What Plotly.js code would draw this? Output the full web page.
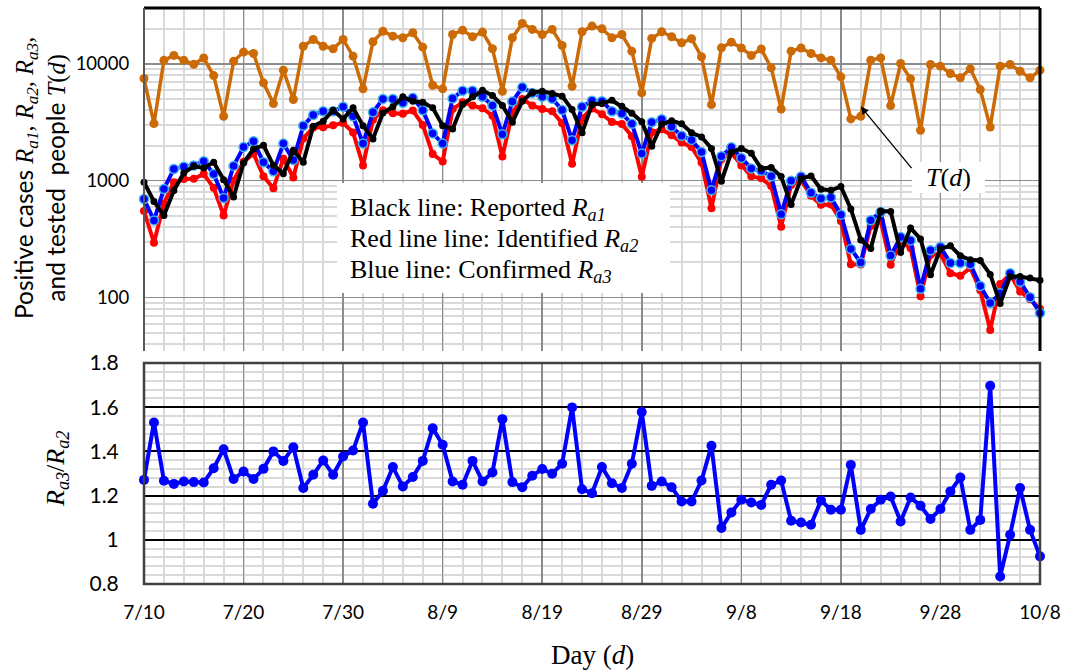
<!DOCTYPE html>
<html><head><meta charset="utf-8">
<script src="https://cdn.plot.ly/plotly-3.0.1.min.js"></script>
<style>html,body{margin:0;padding:0;background:#fff;}#chart{width:1070px;height:671px;}</style>
</head><body><div id="chart"></div>
<script>
// Day index 0 = 7/10 ... 90 = 10/8
const dayIndex = Array.from({length: 91}, (_, i) => i);
const tickPositions = [0, 10, 20, 30, 40, 50, 60, 70, 80, 90];
const tickLabels = ['7/10', '7/20', '7/30', '8/9', '8/19', '8/29', '9/8', '9/18', '9/28', '10/8'];

// Tested people T(d)
const testedT = [7480, 3080, 10700, 11800, 10700, 9900, 11200, 7930, 3560, 10500,
  12600, 12250, 6870, 4570, 8820, 4950, 14140, 16150, 14140, 13440,
  16150, 11620, 6110, 15440, 19000, 17240, 16700, 18430, 13870, 6550,
  6110, 17800, 19400, 17040, 18660, 13440, 5830, 16700, 22140, 19670,
  17800, 19670, 14340, 6430, 18800, 21000, 19940, 16700, 17800, 12820,
  5640, 16480, 18800, 17040, 15100, 16370, 11480, 4480, 13700, 15320,
  13650, 11780, 13370, 9240, 4110, 12820, 13650, 12250, 11230, 10720,
  7740, 3380, 3560, 10720, 11230, 4390, 10060, 7440, 2700, 9860,
  9540, 8260, 7580, 9060, 6020, 2880, 9540, 9860, 8640, 7580, 8820];

// Reported R_a1 (black)
const reportedRa1 = [970, 666, 505, 827, 1167, 1329, 1286, 1438, 1021, 726,
  1419, 1870, 2010, 1355, 1150, 1820, 1438, 2925, 3229, 4010,
  3380, 4200, 2960, 2280, 3800, 4290, 5220, 4790, 4690, 4200,
  2960, 2770, 4490, 5220, 5940, 5350, 4400, 3165, 4790, 5710,
  5820, 5570, 5290, 4060, 2570, 4490, 4570, 4880, 4340, 3780,
  3200, 1970, 3040, 3260, 3070, 2570, 2370, 1890, 990, 1750,
  1890, 1720, 1270, 1300, 1085, 625, 1040, 1100, 845, 828,
  892, 574, 312, 263, 550, 547, 244, 394, 318, 157,
  261, 278, 228, 211, 208, 158, 89, 152, 152, 147, 141];

// Identified R_a2 (red)
const identifiedRa2 = [552, 295, 640, 970, 1035, 1040, 1140, 870, 505, 1000,
  1450, 1706, 1095, 864, 1545, 1065, 2300, 2850, 2860, 2980,
  3115, 2590, 1350, 3330, 4000, 3780, 3740, 3990, 3000, 1690,
  1460, 4100, 4680, 4390, 4170, 3600, 1610, 3820, 5000, 4400,
  4100, 3930, 3100, 1395, 3420, 4150, 3700, 3180, 3060, 2400,
  1080, 2600, 2750, 2450, 2120, 1940, 1430, 583, 1530, 1720,
  1350, 1090, 1050, 900, 405, 918, 1010, 745, 622, 626,
  452, 193, 192, 410, 455, 191, 305, 265, 103, 232,
  238, 162, 154, 180, 116, 53, 131, 159, 113, 97, 80];

// Confirmed R_a3 (blue)
const confirmedRa3 = [698, 458, 851, 1260, 1320, 1350, 1466, 1140, 713, 1340,
  1940, 2175, 1438, 1205, 2078, 1505, 2950, 3650, 3930, 3927,
  4287, 3560, 2078, 3850, 5010, 5000, 4634, 5115, 4000, 2540,
  2078, 5060, 5880, 5880, 5220, 4400, 2500, 4750, 6290, 5640,
  5230, 5030, 4030, 2220, 4287, 4835, 4790, 3927, 3750, 3070,
  1706, 3165, 3360, 2900, 2425, 2235, 1760, 828, 1620, 1930,
  1566, 1275, 1215, 1092, 518, 998, 1085, 790, 705, 720,
  513, 261, 200, 460, 540, 229, 330, 309, 119, 254,
  271, 198, 198, 193, 126, 90, 109, 162, 137, 101, 74];

// Ratio R_a3 / R_a2
const ratioA3A2 = [1.271, 1.531, 1.267, 1.253, 1.264, 1.261, 1.259, 1.324, 1.410, 1.275,
  1.309, 1.275, 1.321, 1.400, 1.357, 1.419, 1.234, 1.294, 1.359, 1.294,
  1.377, 1.404, 1.531, 1.163, 1.222, 1.329, 1.241, 1.284, 1.357, 1.505,
  1.430, 1.264, 1.249, 1.357, 1.264, 1.305, 1.546, 1.261, 1.238, 1.290,
  1.320, 1.299, 1.344, 1.599, 1.229, 1.211, 1.329, 1.256, 1.234, 1.344,
  1.578, 1.244, 1.264, 1.238, 1.173, 1.173, 1.268, 1.425, 1.053, 1.124,
  1.181, 1.169, 1.158, 1.249, 1.268, 1.086, 1.078, 1.068, 1.178, 1.136,
  1.136, 1.339, 1.045, 1.139, 1.181, 1.196, 1.083, 1.191, 1.154, 1.094,
  1.139, 1.219, 1.282, 1.045, 1.090, 1.697, 0.834, 1.023, 1.234, 1.045, 0.925];

const logMajor = [100, 1000, 10000];
const logMinor = [40, 50, 60, 70, 80, 90, 200, 300, 400, 500, 600, 700, 800, 900,
  2000, 3000, 4000, 5000, 6000, 7000, 8000, 9000, 20000];

const SERIF = 'Liberation Serif, Times New Roman, serif';
const SANS = 'Lato, Noto Sans, sans-serif';

const traces = [
  {x: dayIndex, y: testedT, xaxis: 'x2', yaxis: 'y2', mode: 'lines+markers', cliponaxis: false,
   line: {color: '#CC6A06', width: 3.5}, marker: {color: '#CC6A06', size: 9}, name: 'T(d)'},
  {x: dayIndex, y: identifiedRa2, xaxis: 'x2', yaxis: 'y2', mode: 'lines+markers', cliponaxis: false,
   line: {color: '#FF0000', width: 4}, marker: {color: '#FF0000', size: 8}, name: 'Ra2'},
  {x: dayIndex, y: confirmedRa3, xaxis: 'x2', yaxis: 'y2', mode: 'lines+markers', cliponaxis: false,
   line: {color: '#0000FF', width: 4}, marker: {color: '#0000FF', size: 9, line: {color: '#40B4E6', width: 1.5}}, name: 'Ra3'},
  {x: dayIndex, y: reportedRa1, xaxis: 'x2', yaxis: 'y2', mode: 'lines+markers', cliponaxis: false,
   line: {color: '#000000', width: 4}, marker: {color: '#000000', size: 7}, name: 'Ra1'},
  {x: dayIndex, y: ratioA3A2, xaxis: 'x', yaxis: 'y', mode: 'lines+markers', cliponaxis: false,
   line: {color: '#0000FF', width: 4}, marker: {color: '#0000FF', size: 10}, name: 'ratio'}
];

const xCommon = {
  range: [0, 90], tickmode: 'array', tickvals: tickPositions, ticktext: tickLabels,
  showgrid: true, gridcolor: '#8C8C8C', gridwidth: 1.5, zeroline: false, showline: false,
  minor: {dtick: 2, tick0: 0, showgrid: true, gridcolor: '#D9D9D9', gridwidth: 2}
};

const layout = {
  width: 1070, height: 671,
  margin: {l: 144, r: 30, t: 8, b: 87},
  paper_bgcolor: '#FFFFFF', plot_bgcolor: '#FFFFFF',
  showlegend: false,
  font: {family: SANS, color: '#000000'},
  xaxis: Object.assign({}, xCommon, {anchor: 'y', domain: [0, 1],
    ticks: 'outside', ticklen: 11, tickcolor: 'rgba(0,0,0,0)',
    tickfont: {family: SANS, size: 19, color: '#000'}}),
  xaxis2: Object.assign({}, xCommon, {anchor: 'y2', domain: [0, 1], matches: 'x', showticklabels: false}),
  yaxis: {domain: [0, 0.3837], anchor: 'x', range: [0.8, 1.8], tickmode: 'array',
    tickvals: [0.8, 1, 1.2, 1.4, 1.6, 1.8], ticktext: ['0.8', '1', '1.2', '1.4', '1.6', '1.8'],
    showgrid: true, gridcolor: '#000000', gridwidth: 2, zeroline: false, showline: false,
    ticks: 'outside', ticklen: 20, tickcolor: 'rgba(0,0,0,0)',
    tickfont: {family: SANS, size: 21, color: '#000'},
    minor: {dtick: 0.04, tick0: 0.8, showgrid: true, gridcolor: '#D9D9D9', gridwidth: 2}},
  yaxis2: {domain: [0.4045, 1], anchor: 'x2', type: 'log',
    range: [Math.log10(35), Math.log10(30000)], tickmode: 'array', tickvals: logMajor,
    ticktext: ['100', '1000', '10000'],
    showgrid: true, gridcolor: '#8C8C8C', gridwidth: 1.5, zeroline: false, showline: false,
    ticks: 'outside', ticklen: 10, tickcolor: 'rgba(0,0,0,0)',
    tickfont: {family: SANS, size: 18.5, color: '#000'},
    minor: {tickmode: 'array', tickvals: logMinor, showgrid: true, gridcolor: '#D9D9D9', gridwidth: 2}},
  shapes: [
    // top panel frame
    {type: 'line', xref: 'paper', yref: 'paper', x0: 0, x1: 1, y0: 1, y1: 1, line: {color: '#000', width: 3}},
    {type: 'line', xref: 'paper', yref: 'paper', x0: 1, x1: 1, y0: 0.4045, y1: 1, line: {color: '#000', width: 3}},
    {type: 'line', xref: 'paper', yref: 'paper', x0: 0, x1: 0, y0: 0.4045, y1: 1, line: {color: '#595959', width: 2}},
    // bottom panel frame
    {type: 'rect', xref: 'paper', yref: 'paper', x0: 0, x1: 1, y0: 0, y1: 0.3837, line: {color: '#404040', width: 2.5}},
    // legend box
    {type: 'rect', xref: 'paper', yref: 'paper', layer: 'above', x0: 0.2154, x1: 0.587, y0: 0.505, y1: 0.696,
     fillcolor: '#FFFFFF', line: {width: 0}},
    // T(d) box
    {type: 'rect', xref: 'paper', yref: 'paper', layer: 'above', x0: (912 - 144) / 896, x1: (985 - 144) / 896,
     y0: (584 - 193) / 576, y1: (584 - 162) / 576, fillcolor: '#FFFFFF', line: {width: 0}}
  ],
  annotations: [
    {xref: 'paper', yref: 'paper', x: (348 - 144) / 896, y: (584 - 209) / 576, xanchor: 'left', yanchor: 'middle',
     showarrow: false, font: {family: SERIF, size: 26, color: '#000'},
     text: 'Black line: Reported <i>R</i><sub><i>a1</i></sub>'},
    {xref: 'paper', yref: 'paper', x: (348 - 144) / 896, y: (584 - 240) / 576, xanchor: 'left', yanchor: 'middle',
     showarrow: false, font: {family: SERIF, size: 26, color: '#000'},
     text: 'Red line line: Identified <i>R</i><sub><i>a2</i></sub>'},
    {xref: 'paper', yref: 'paper', x: (348 - 144) / 896, y: (584 - 271) / 576, xanchor: 'left', yanchor: 'middle',
     showarrow: false, font: {family: SERIF, size: 26, color: '#000'},
     text: 'Blue line: Confirmed <i>R</i><sub><i>a3</i></sub>'},
    // T(d) label
    {xref: 'paper', yref: 'paper', x: (948 - 144) / 896, y: (584 - 177) / 576, xanchor: 'center', yanchor: 'middle',
     showarrow: false, font: {family: SERIF, size: 26, color: '#000'}, text: '<i>T</i>(<i>d</i>)'},
    // arrow
    {xref: 'x2', yref: 'y2', x: 72, y: 3.634, ax: 52, ay: 63, text: '', showarrow: true,
     arrowhead: 2, arrowsize: 1.2, arrowwidth: 1.3, arrowcolor: '#000', standoff: 0, startstandoff: 0},
    // y titles
    {xref: 'paper', yref: 'paper', x: (40 - 144) / 896, y: (584 - 178) / 576, xanchor: 'center', yanchor: 'middle',
     showarrow: false, textangle: -90, font: {family: SANS, size: 24.5, color: '#000'},
     text: 'Positive cases <span style="font-family:Liberation Serif;"><i>R</i><sub><i>a1</i></sub>, <i>R</i><sub><i>a2</i></sub>, <i>R</i><sub><i>a3</i></sub>,</span><br>and tested  people <span style="font-family:Liberation Serif;"><i>T</i>(<i>d</i>)</span>'},
    {xref: 'paper', yref: 'paper', x: (57 - 144) / 896, y: (584 - 469) / 576, xanchor: 'center', yanchor: 'middle',
     showarrow: false, textangle: -90, font: {family: SERIF, size: 26, color: '#000'},
     text: '<i>R</i><sub><i>a3</i></sub>/<i>R</i><sub><i>a2</i></sub>'},
    // x title
    {xref: 'paper', yref: 'paper', x: 0.5, y: (584 - 655) / 576, xanchor: 'center', yanchor: 'middle',
     showarrow: false, font: {family: SERIF, size: 27, color: '#000'}, text: 'Day (<i>d</i>)'}
  ]
};

Plotly.newPlot('chart', traces, layout, {staticPlot: true, displayModeBar: false});
</script>
</body></html>
